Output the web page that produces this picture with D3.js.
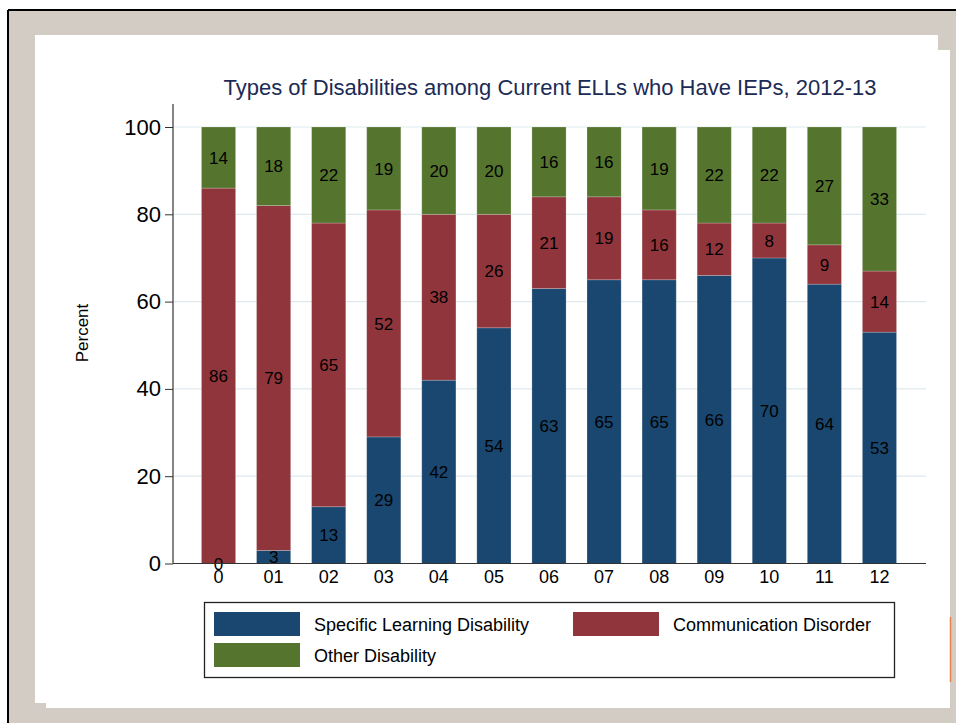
<!DOCTYPE html>
<html>
<head>
<meta charset="utf-8">
<script src="https://cdn.jsdelivr.net/npm/d3@7"></script>
<style>
  body { margin: 0; background: #fff; }
  svg text { font-family: "Liberation Sans", Arial, Helvetica, sans-serif; }
</style>
</head>
<body>
<div id="chart"></div>
<script>
// grades and their disability shares (percent)
var grades = ['0', '01', '02', '03', '04', '05', '06', '07', '08', '09', '10', '11', '12'];
var learning = [0, 3, 13, 29, 42, 54, 63, 65, 65, 66, 70, 64, 53];
var communication = [86, 79, 65, 52, 38, 26, 21, 19, 16, 12, 8, 9, 14];
var other = [14, 18, 22, 19, 20, 20, 16, 16, 19, 22, 22, 27, 33];
var seriesNames = ['Specific Learning Disability', 'Communication Disorder', 'Other Disability'];
var yTicks = [0, 20, 40, 60, 80, 100];

var colors = ['#1a476f', '#90353b', '#55752f'];
var width = 956, height = 723;

var svg = d3.select('#chart').append('svg')
	.attr('width', width)
	.attr('height', height);

// frame: beige page with black edge and offset white panels
svg.append('rect').attr('x', 8).attr('y', 10).attr('width', width - 8).attr('height', height - 10)
	.attr('fill', '#d3ccc5');
svg.append('line').attr('x1', 8).attr('x2', width).attr('y1', 10).attr('y2', 10)
	.attr('stroke', '#000').attr('stroke-width', 2);
svg.append('line').attr('x1', 8).attr('x2', 8).attr('y1', 10).attr('y2', height)
	.attr('stroke', '#000').attr('stroke-width', 2);
svg.append('rect').attr('x', 35).attr('y', 35).attr('width', 903).attr('height', 668)
	.attr('fill', '#fff');
svg.append('rect').attr('x', 46).attr('y', 50).attr('width', 904).attr('height', 658)
	.attr('fill', '#fff');
svg.append('line').attr('x1', 950.5).attr('x2', 950.5).attr('y1', 617).attr('y2', 682)
	.attr('stroke', '#e8804a').attr('stroke-width', 1.5);

var x = d3.scaleBand()
	.domain(grades)
	.range([191, 907])
	.paddingInner(0.38)
	.paddingOuter(0.19);
var y = d3.scaleLinear()
	.domain([0, 100])
	.range([563.5, 127]);

// grid lines
svg.append('g').selectAll('line')
	.data(yTicks.filter(d => d > 0))
	.enter().append('line')
	.attr('x1', 173).attr('x2', 926)
	.attr('y1', d => y(d)).attr('y2', d => y(d))
	.attr('stroke', '#dfe9ed').attr('stroke-width', 1.2);

// stack the three series
var rows = grades.map(function(g, i){
	return {grade: g, s0: learning[i], s1: communication[i], s2: other[i]};
});
var stacked = d3.stack().keys(['s0', 's1', 's2'])(rows);

var layers = svg.selectAll('g.layer')
	.data(stacked)
	.enter().append('g')
	.attr('class', 'layer')
	.attr('fill', (d, i) => colors[i]);
layers.selectAll('rect')
	.data(d => d)
	.enter().append('rect')
	.attr('x', d => x(d.data.grade))
	.attr('width', x.bandwidth())
	.attr('y', d => y(d[1]))
	.attr('height', d => y(d[0]) - y(d[1]))
	.attr('stroke', 'rgba(255,255,255,0.25)')
	.attr('stroke-width', 0.8);

// value labels in segment centres
stacked.forEach(function(layer){
	svg.append('g').selectAll('text')
		.data(layer)
		.enter().append('text')
		.attr('x', d => x(d.data.grade) + x.bandwidth() / 2)
		.attr('y', d => y((d[0] + d[1]) / 2))
		.attr('dy', '0.36em')
		.attr('text-anchor', 'middle')
		.attr('font-size', 17)
		.attr('fill', '#000')
		.text(d => Math.round(d[1] - d[0]));
});

// y axis
var yAxis = svg.append('g')
	.attr('transform', 'translate(173,0)')
	.call(d3.axisLeft(y).tickValues(yTicks).tickSize(8).tickPadding(4));
yAxis.select('.domain').remove();
yAxis.selectAll('line').attr('stroke', '#333');
yAxis.selectAll('text').attr('font-size', 22).attr('fill', '#000');
svg.append('line').attr('x1', 173).attr('x2', 173).attr('y1', 104).attr('y2', 563.5)
	.attr('stroke', '#333').attr('stroke-width', 1.2);

// x axis
var xAxis = svg.append('g')
	.attr('transform', 'translate(0,563.5)')
	.call(d3.axisBottom(x).tickSize(0).tickPadding(7));
xAxis.select('.domain').remove();
xAxis.selectAll('text').attr('font-size', 18).attr('fill', '#000');
svg.append('line').attr('x1', 173).attr('x2', 926).attr('y1', 563.5).attr('y2', 563.5)
	.attr('stroke', '#333').attr('stroke-width', 1.2);

svg.append('text')
	.attr('transform', 'translate(88,333) rotate(-90)')
	.attr('text-anchor', 'middle')
	.attr('font-size', 17)
	.text('Percent');

svg.append('text')
	.attr('x', 550).attr('y', 95)
	.attr('text-anchor', 'middle')
	.attr('font-size', 22)
	.attr('fill', '#1c2b55')
	.text('Types of Disabilities among Current ELLs who Have IEPs, 2012-13');

// legend
var legend = svg.append('g');
legend.append('rect')
	.attr('x', 204.5).attr('y', 602.5).attr('width', 690).attr('height', 75)
	.attr('fill', '#fff').attr('stroke', '#222').attr('stroke-width', 1.3);
var legendPos = [[214, 612], [573, 612], [214, 643]];
seriesNames.forEach(function(name, i){
	var p = legendPos[i];
	legend.append('rect')
		.attr('x', p[0]).attr('y', p[1]).attr('width', 86).attr('height', 24)
		.attr('fill', colors[i]);
	legend.append('text')
		.attr('x', p[0] + 100).attr('y', p[1] + 13)
		.attr('dy', '0.36em')
		.attr('font-size', 18)
		.text(name);
});
</script>
</body>
</html>
